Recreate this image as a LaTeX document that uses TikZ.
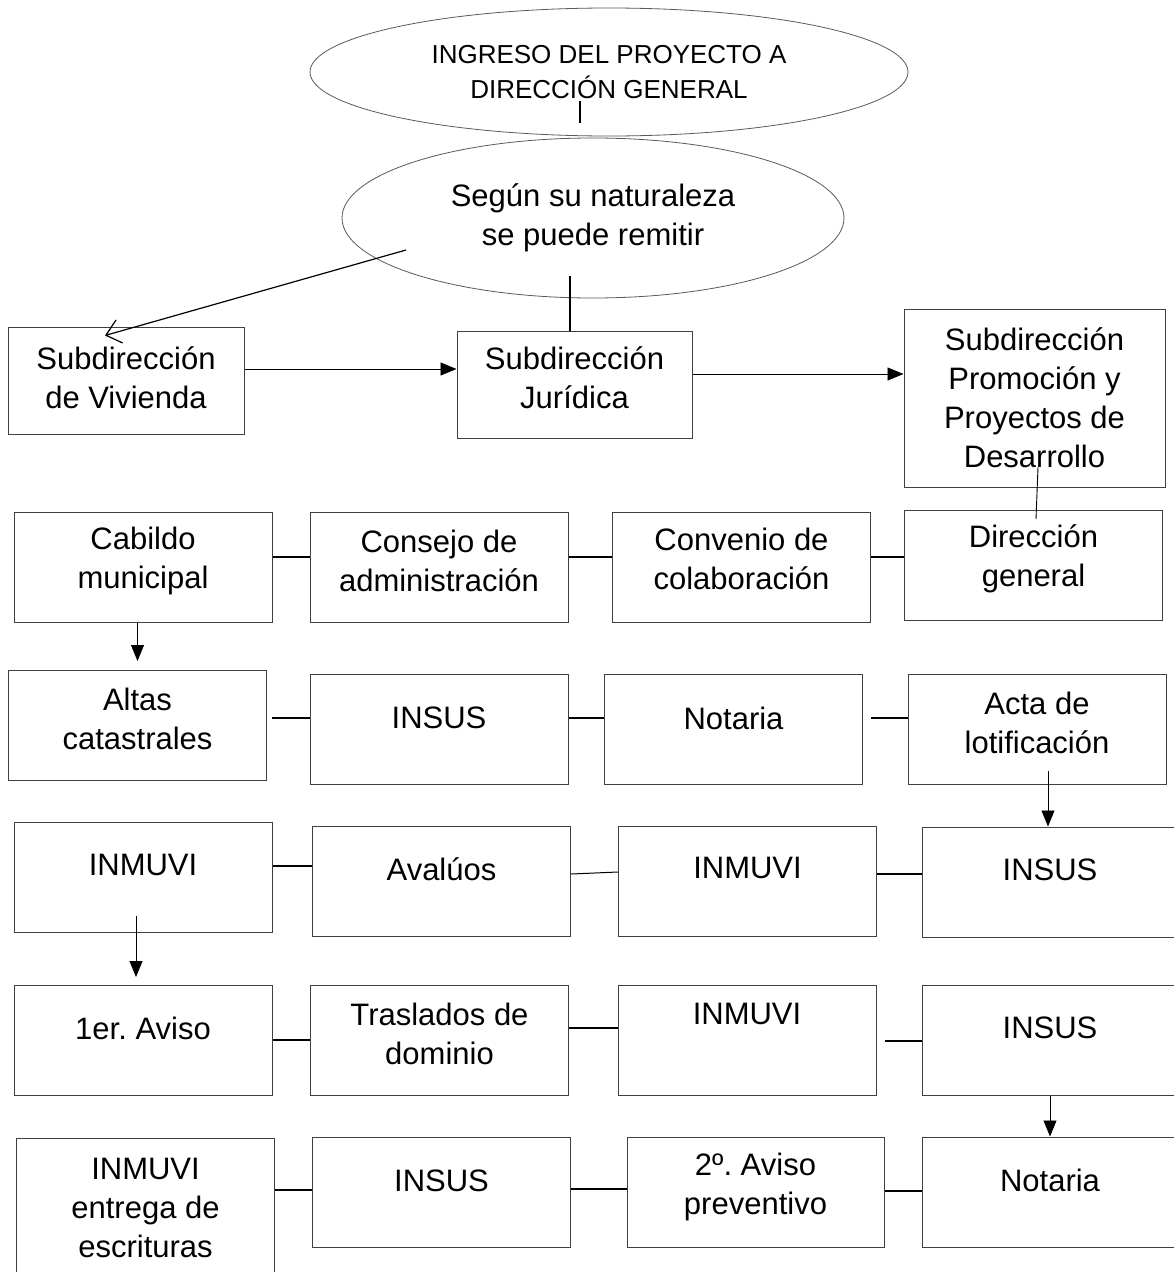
\documentclass[tikz,border=0pt]{standalone}
\usepackage{fontspec}
\setmainfont{Liberation Sans}
\usetikzlibrary{arrows.meta,shapes.geometric}
\frenchspacing

\begin{document}
\begin{tikzpicture}[x=1pt,y=-1pt,
  caja/.style={rectangle,draw=black!75,line width=1pt,minimum width=258pt,minimum height=110pt,inner sep=0pt},
  txt/.style={align=center,inner sep=0pt,font=\fontsize{31}{39}\selectfont},
  elipse/.style={ellipse,draw=black!65,line width=0.8pt,inner sep=0pt,align=center},
  linea/.style={line width=1.8pt},
  flecha/.style={line width=0.9pt,-{Triangle[length=16pt,width=13pt]}}]
  \useasboundingbox (0,0) rectangle (1173,1272);

  % ellipses
  \node[elipse,minimum width=598pt,minimum height=128pt,font=\fontsize{26}{35}\selectfont] (ingreso) at (609,72) {INGRESO DEL PROYECTO A\\DIRECCIÓN GENERAL};
  \node[elipse,minimum width=502pt,minimum height=160pt,font=\fontsize{31}{39}\selectfont] (segun) at (593,218) {Según su naturaleza\\se puede remitir};

  % subdirecciones
  \node[caja,minimum width=236pt,minimum height=107pt] (viv) at (126,380.5) {};
  \node[txt] (viv-t) at ([yshift=3pt]viv.center) {Subdirección\\de Vivienda};
  \node[caja,minimum width=235pt,minimum height=107pt] (jur) at (574.5,384.5) {};
  \node[txt] (jur-t) at ([yshift=7pt]jur.center) {Subdirección\\Jurídica};
  \node[caja,minimum width=261pt,minimum height=178pt] (prom) at (1034.5,398) {};
  \node[txt] (prom-t) at (prom.center) {Subdirección\\Promoción y\\Proyectos de\\Desarrollo};

  % second row
  \node[caja] (cab) at (143,567) {};
  \node[txt] (cab-t) at ([yshift=6pt]cab.center) {Cabildo\\municipal};
  \node[caja] (cons) at (439,567.5) {};
  \node[txt] (cons-t) at ([yshift=6.5pt]cons.center) {Consejo de\\administración};
  \node[caja] (conv) at (741.5,567) {};
  \node[txt] (conv-t) at ([yshift=8pt]conv.center) {Convenio de\\colaboración};
  \node[caja] (dir) at (1033.5,565) {};
  \node[txt] (dir-t) at ([yshift=6.5pt]dir.center) {Dirección\\general};

  % third row
  \node[caja] (altas) at (137.5,725.5) {};
  \node[txt] (altas-t) at ([yshift=6.5pt]altas.center) {Altas\\catastrales};
  \node[caja] (ins3) at (439,729.5) {};
  \node[txt] (ins3-t) at ([yshift=11.5pt]ins3.center) {INSUS};
  \node[caja] (not3) at (733.5,729.5) {};
  \node[txt] (not3-t) at ([yshift=11.5pt]not3.center) {Notaria};
  \node[caja] (acta) at (1037,729.5) {};
  \node[txt] (acta-t) at ([yshift=6.5pt]acta.center) {Acta de\\lotificación};

  % fourth row
  \node[caja] (inm4) at (143,877) {};
  \node[txt] (inm4-t) at ([yshift=12pt]inm4.center) {INMUVI};
  \node[caja] (aval) at (441.5,881) {};
  \node[txt] (aval-t) at ([yshift=12pt]aval.center) {Avalúos};
  \node[caja] (inm4b) at (747.5,881) {};
  \node[txt] (inm4b-t) at ([yshift=13pt]inm4b.center) {INMUVI};
  \node[caja,minimum width=256pt] (ins4) at (1050,882) {};
  \node[txt] (ins4-t) at ([yshift=12pt]ins4.center) {INSUS};

  % fifth row
  \node[caja] (av1) at (143,1040.5) {};
  \node[txt] (av1-t) at ([yshift=12.5pt]av1.center) {1er. Aviso};
  \node[caja] (tras) at (439.5,1040.5) {};
  \node[txt] (tras-t) at ([yshift=6.5pt]tras.center) {Traslados de\\dominio};
  \node[caja] (inm5) at (747,1040.5) {};
  \node[txt] (inm5-t) at ([yshift=26.5pt]inm5.center) {INMUVI};
  \node[caja,minimum width=256pt] (ins5) at (1050,1040.5) {};
  \node[txt] (ins5-t) at ([yshift=12.5pt]ins5.center) {INSUS};

  % last row
  \node[caja,minimum height=147pt] (inme) at (145.5,1211.5) {};
  \node[txt] (inme-t) at ([yshift=3.5pt]inme.center) {INMUVI\\entrega de\\escrituras};
  \node[caja] (ins6) at (441.5,1192) {};
  \node[txt] (ins6-t) at ([yshift=11pt]ins6.center) {INSUS};
  \node[caja,minimum width=257pt] (av2) at (755.5,1192) {};
  \node[txt] (av2-t) at ([yshift=5pt]av2.center) {2º. Aviso\\preventivo};
  \node[caja,minimum width=256pt] (not6) at (1050,1192) {};
  \node[txt] (not6-t) at ([yshift=12pt]not6.center) {Notaria};

  % top connectors
  \draw[linea] ([shift={(-29pt,-29pt)}]ingreso.center) -- ([shift={(-29pt,-51pt)}]ingreso.center);
  \draw[line width=1.2pt,-{Straight Barb[length=14pt,width=24pt]}] ([shift={(-187pt,-32pt)}]segun.center) -- ([shift={(-21pt,45pt)}]viv.center);
  \draw[linea] ([shift={(-23pt,-58pt)}]segun.center) -- ([xshift=-4.5pt]jur.north);
  \draw[flecha] ([yshift=11.5pt]viv.east) -- ([yshift=15.5pt]jur.west);
  \draw[flecha] ([yshift=10.5pt]jur.east) -- ([yshift=24pt]prom.west);
  \draw[line width=0.9pt] ([shift={(3.5pt,-69pt)}]prom.center) -- ([shift={(2.5pt,46pt)}]dir.center);

  % rows
  \draw[linea] ([yshift=10pt]cab.east) -- ([yshift=10.5pt]cons.west);
  \draw[linea] ([yshift=10.5pt]cons.east) -- ([yshift=10pt]conv.west);
  \draw[linea] ([yshift=10pt]conv.east) -- ([yshift=8pt]dir.west);
  \draw[flecha] (altas.north |- cab.south) -- ([yshift=9pt]altas.north);

  \draw[linea] ([xshift=5pt,yshift=7.5pt]altas.east) -- ([yshift=11.5pt]ins3.west);
  \draw[linea] ([yshift=11.5pt]ins3.east) -- ([yshift=11.5pt]not3.west);
  \draw[linea] ([xshift=8pt,yshift=11.5pt]not3.east) -- ([yshift=11.5pt]acta.west);
  \draw[flecha] ([xshift=11pt,yshift=14pt]acta.south) -- ([xshift=-2pt]ins4.north);

  \draw[linea] ([yshift=11pt]inm4.east) -- ([yshift=15pt]aval.west);
  \draw[line width=1pt] ([yshift=7pt]aval.east) -- ([yshift=9pt]inm4b.west);
  \draw[linea] ([yshift=7pt]inm4b.east) -- ([yshift=8pt]ins4.west);
  \draw[flecha] ([xshift=-7pt,yshift=17pt]inm4.south) -- ([xshift=-7pt,yshift=8pt]av1.north);

  \draw[linea] ([yshift=0.5pt]av1.east) -- ([yshift=0.5pt]tras.west);
  \draw[linea] ([yshift=12.5pt]tras.east) -- ([yshift=12.5pt]inm5.west);
  \draw[linea] ([xshift=8pt,yshift=-0.5pt]inm5.east) -- ([yshift=-0.5pt]ins5.west);
  \draw[flecha] (ins5) -- (not6);

  \draw[linea] ([yshift=21.5pt]inme.east) -- ([yshift=2pt]ins6.west);
  \draw[linea] ([yshift=3pt]ins6.east) -- ([yshift=3pt]av2.west);
  \draw[linea] ([yshift=1pt]av2.east) -- ([yshift=1pt]not6.west);
\end{tikzpicture}
\end{document}
